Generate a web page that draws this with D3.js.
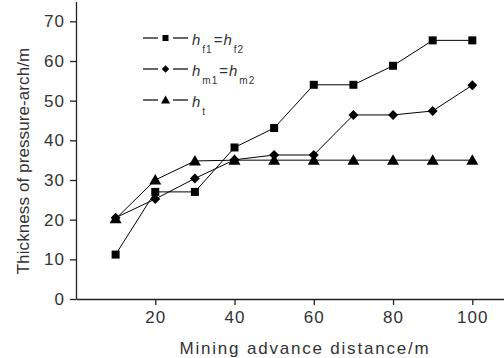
<!DOCTYPE html>
<html>
<head>
<meta charset="utf-8">
<script src="https://cdn.jsdelivr.net/npm/d3@7"></script>
<style>
  html, body { margin: 0; padding: 0; background: #fff; }
  svg { display: block; }
  text { font-family: "Liberation Sans", Arial, sans-serif; fill: #333; }
</style>
</head>
<body>
<svg id="chart" width="504" height="358"></svg>
<script>
// Mining advance distance (m)
const distance = [10, 20, 30, 40, 50, 60, 70, 80, 90, 100];
// Pressure-arch thickness (m) per series
const hf = [11.2, 27.0, 27.0, 38.2, 43.1, 54.0, 54.0, 58.8, 65.2, 65.2];
const hm = [20.5, 25.2, 30.4, 35.1, 36.3, 36.3, 46.4, 46.4, 47.4, 53.9];
const ht = [20.2, 30.0, 34.8, 35.0, 35.0, 35.0, 35.0, 35.0, 35.0, 35.0];

const xTicks = [20, 40, 60, 80, 100];
const yTicks = [0, 10, 20, 30, 40, 50, 60, 70];

const seriesNames = ["hf", "hm", "ht"];
const seriesValues = [hf, hm, ht];
const seriesMarkers = ["square", "diamond", "triangle"];

// Legend labels: [main, subscript] pieces
const legendLabels = [
  [["h", "f1"], ["=h", "f2"]],
  [["h", "m1"], ["=h", "m2"]],
  [["h", "t"]]
];

const svg = d3.select("#chart");

const x = d3.scaleLinear().domain([0, 108]).range([76, 504]);
const y = d3.scaleLinear().domain([0, 75]).range([299, 1.5]);

// Axes
const xAxis = d3.axisBottom(x).tickValues(xTicks).tickSize(6).tickSizeOuter(0).tickPadding(6);
const yAxis = d3.axisLeft(y).tickValues(yTicks).tickSize(6).tickSizeOuter(0).tickPadding(5);

const gx = svg.append("g").attr("transform", "translate(0,299)").call(xAxis);
const gy = svg.append("g").attr("transform", "translate(76,0)").call(yAxis);

[gx, gy].forEach(g => {
  g.select(".domain").attr("stroke", "#222").attr("stroke-width", 1.3);
  g.selectAll(".tick line").attr("stroke", "#222").attr("stroke-width", 1.3);
  g.selectAll(".tick text")
    .style("font-size", "17px")
    .style("letter-spacing", "1px")
    .attr("fill", "#333");
});

// Axis titles
svg.append("text")
  .attr("x", 305).attr("y", 354)
  .attr("text-anchor", "middle")
  .style("font-size", "17px")
  .style("letter-spacing", "1.8px")
  .text("Mining advance distance/m");

svg.append("text")
  .attr("transform", "translate(29,161) rotate(-90)")
  .attr("text-anchor", "middle")
  .style("font-size", "17px")
  .style("letter-spacing", "0.1px")
  .text("Thickness of pressure-arch/m");

// Marker drawing; s scales the marker size
function drawMarker(g, type, cx, cy, s = 1) {
  if (type === "square") {
    g.append("rect").attr("x", cx - 4 * s).attr("y", cy - 4 * s).attr("width", 8 * s).attr("height", 8 * s).attr("fill", "#000");
  } else if (type === "diamond") {
    g.append("path").attr("d", `M${cx},${cy - 5 * s}L${cx + 5 * s},${cy}L${cx},${cy + 5 * s}L${cx - 5 * s},${cy}Z`).attr("fill", "#000");
  } else {
    g.append("path").attr("d", `M${cx},${cy - 6 * s}L${cx + 6 * s},${cy + 4.5 * s}L${cx - 6 * s},${cy + 4.5 * s}Z`).attr("fill", "#000");
  }
}

const line = d3.line().x(d => x(d[0])).y(d => y(d[1]));

seriesValues.forEach((vals, i) => {
  const pts = distance.map((d, j) => [d, vals[j]]);
  svg.append("path")
    .datum(pts)
    .attr("d", line)
    .attr("fill", "none")
    .attr("stroke", "#000")
    .attr("stroke-width", 1);
});

// Markers drawn on top, triangles last
[0, 1, 2].forEach(i => {
  const g = svg.append("g").attr("class", "markers-" + seriesNames[i]);
  distance.forEach((d, j) => drawMarker(g, seriesMarkers[i], x(d), y(seriesValues[i][j])));
});

// Legend
const legendY = [38, 69, 100];
legendLabels.forEach((parts, i) => {
  const g = svg.append("g").attr("transform", `translate(0,${legendY[i]})`);
  g.append("line").attr("x1", 143).attr("x2", 158).attr("y1", 0).attr("y2", 0).attr("stroke", "#000").attr("stroke-width", 1.2);
  g.append("line").attr("x1", 173).attr("x2", 188).attr("y1", 0).attr("y2", 0).attr("stroke", "#000").attr("stroke-width", 1.2);
  drawMarker(g, seriesMarkers[i], 165.5, 0, 0.75);
  const t = g.append("text").attr("x", 192).attr("y", 7).style("font-size", "15px");
  let shift = 0;
  parts.forEach(([main, sub]) => {
    if (main.startsWith("=")) {
      t.append("tspan").text("=").attr("dy", -shift).attr("dx", 1).style("font-style", "normal");
      t.append("tspan").text(main.slice(1)).attr("dx", 1).style("font-style", "italic");
    } else {
      t.append("tspan").text(main).attr("dy", -shift).style("font-style", "italic");
    }
    t.append("tspan").text(sub).attr("dy", 8).attr("dx", 2).style("font-size", "10px").style("letter-spacing", "1px");
    shift = 8;
  });
});
</script>
</body>
</html>
